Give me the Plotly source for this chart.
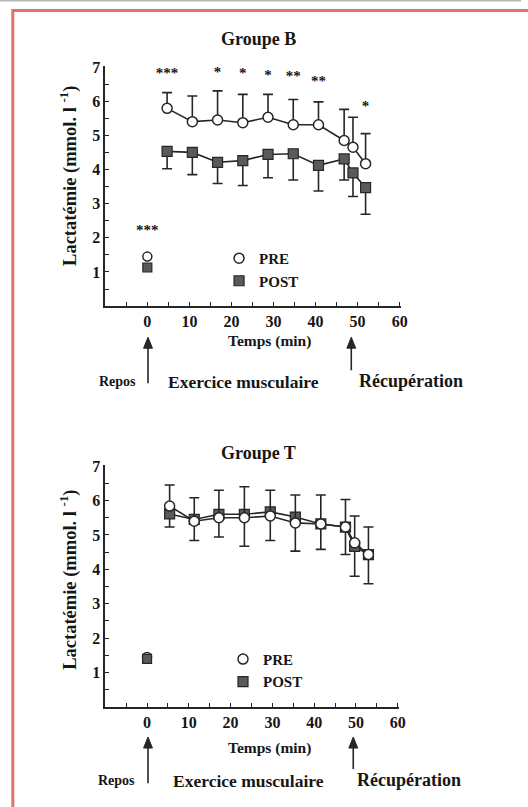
import plotly.graph_objects as go

W, H = 528, 807
def px(x): return x / W
def py(y): return 1 - ((y - 8.5) / 0.988) / H

# ---------------- data ----------------
# Groupe B
time_B = [4.7, 10.7, 16.7, 22.7, 28.7, 34.7, 40.7, 46.8, 48.9, 51.9]
pre_B = [5.79, 5.40, 5.45, 5.37, 5.53, 5.31, 5.31, 4.85, 4.65, 4.17]
pre_B_sd = [0.46, 0.75, 0.85, 0.83, 0.67, 0.74, 0.67, 0.91, 0.88, 0.88]
post_B = [4.53, 4.50, 4.21, 4.26, 4.44, 4.46, 4.12, 4.31, 3.90, 3.47]
post_B_sd = [0.51, 0.65, 0.62, 0.73, 0.68, 0.77, 0.75, 0.62, 0.69, 0.78]
rest_time = [0]
rest_pre_B = [1.45]
rest_post_B = [1.13]
stars_B_x = [0, 4.7, 16.7, 22.7, 28.7, 34.7, 40.7, 51.9]
stars_B_y = [2.2, 6.79, 6.83, 6.79, 6.73, 6.69, 6.55, 5.82]
stars_B_txt = ["***", "***", "*", "*", "*", "**", "**", "*"]

# Groupe T
time_T = [5.4, 11.3, 17.2, 23.3, 29.5, 35.5, 41.6, 47.5, 49.7, 53.0]
pre_T = [5.84, 5.40, 5.50, 5.50, 5.55, 5.35, 5.32, 5.23, 4.77, 4.43]
pre_T_sd = [0.61, 0.68, 0.80, 0.90, 0.75, 0.81, 0.84, 0.80, 0.78, 0.80]
post_T = [5.61, 5.45, 5.60, 5.60, 5.67, 5.52, 5.32, 5.23, 4.67, 4.43]
post_T_sd = [0.38, 0.61, 0.66, 0.93, 0.83, 0.99, 0.74, 0.80, 0.87, 0.85]
rest_pre_T = [1.45]
rest_post_T = [1.40]

y_ticks = [v / 2 for v in range(1, 15)]
y_labels = [str(int(v)) if v == int(v) else "" for v in y_ticks]
x_ticks = list(range(-5, 61, 5))
x_labels = [str(v) if v % 10 == 0 and v >= 0 else "" for v in x_ticks]

FONT = "Liberation Serif"
INK = "#161616"
LINE = "#262626"
SQ = "#5a5a5a"

fig = go.Figure()

def add_group(xa, ya, t, pre, pre_sd, post, post_sd, rpre, rpost, legend):
    fig.add_trace(go.Scatter(
        x=t, y=post, mode="lines+markers", xaxis=xa, yaxis=ya, showlegend=False,
        line=dict(color=LINE, width=1.6),
        marker=dict(symbol="square", size=10, color=SQ, line=dict(color=LINE, width=1.2)),
        error_y=dict(type="data", symmetric=False, array=[0] * len(post_sd),
                     arrayminus=post_sd, color=LINE, thickness=1.6, width=5)))
    fig.add_trace(go.Scatter(
        x=t, y=pre, mode="lines+markers", xaxis=xa, yaxis=ya, showlegend=False,
        line=dict(color=LINE, width=1.6),
        marker=dict(symbol="circle", size=10, color="white", line=dict(color=LINE, width=1.5)),
        error_y=dict(type="data", symmetric=False, array=pre_sd,
                     arrayminus=[0] * len(pre_sd), color=LINE, thickness=1.6, width=5)))
    fig.add_trace(go.Scatter(
        x=rest_time, y=rpre, mode="markers", xaxis=xa, yaxis=ya, showlegend=False,
        marker=dict(symbol="circle", size=9, color="white", line=dict(color=LINE, width=1.5))))
    fig.add_trace(go.Scatter(
        x=rest_time, y=rpost, mode="markers", xaxis=xa, yaxis=ya, showlegend=False,
        marker=dict(symbol="square", size=9, color=SQ, line=dict(color=LINE, width=1.2))))
    # legend entries
    fig.add_trace(go.Scatter(
        x=[None], y=[None], mode="markers", name="PRE", legend=legend, xaxis=xa, yaxis=ya,
        marker=dict(symbol="circle", size=10, color="white", line=dict(color=LINE, width=1.5))))
    fig.add_trace(go.Scatter(
        x=[None], y=[None], mode="markers", name="POST", legend=legend, xaxis=xa, yaxis=ya,
        marker=dict(symbol="square", size=10, color=SQ, line=dict(color=LINE, width=1.2))))

add_group("x", "y", time_B, pre_B, pre_B_sd, post_B, post_B_sd, rest_pre_B, rest_post_B, "legend")
add_group("x2", "y2", time_T, pre_T, pre_T_sd, post_T, post_T_sd, rest_pre_T, rest_post_T, "legend2")

fig.add_trace(go.Scatter(
    x=stars_B_x, y=stars_B_y, text=stars_B_txt, mode="text", xaxis="x", yaxis="y",
    showlegend=False, textfont=dict(family=FONT, size=15, color=INK, weight="bold")))

axis_common = dict(showline=True, linecolor=LINE, linewidth=1.6, ticks="inside",
                   ticklen=4, tickwidth=1.2, tickcolor=LINE, showgrid=False, zeroline=False,
                   tickfont=dict(family=FONT, size=16, color=INK, weight="bold"))

leg_font = dict(family=FONT, size=15, color=INK, weight="bold")
fig.update_layout(
    width=W, height=H, margin=dict(l=0, r=0, t=0, b=0),
    paper_bgcolor="white", plot_bgcolor="rgba(0,0,0,0)",
    font=dict(family=FONT, color=INK, weight="bold"),
    xaxis=dict(domain=[px(106.7), px(406.3)], range=[-10, 60.3], anchor="y",
               tickvals=x_ticks, ticktext=x_labels, **axis_common),
    yaxis=dict(domain=[py(306), py(66.7)], range=[0, 7.02], anchor="x",
               tickvals=y_ticks, ticktext=y_labels, **axis_common),
    xaxis2=dict(domain=[px(106.7), px(404.3)], range=[-10, 60.3], anchor="y2",
                tickvals=x_ticks, ticktext=x_labels, **axis_common),
    yaxis2=dict(domain=[py(706), py(465)], range=[0, 7.02], anchor="x2",
                tickvals=y_ticks, ticktext=y_labels, **axis_common),
    legend=dict(x=px(222), y=py(242), xanchor="left", yanchor="top",
                bgcolor="rgba(0,0,0,0)", font=leg_font, tracegroupgap=0, itemwidth=30),
    legend2=dict(x=px(226), y=py(642), xanchor="left", yanchor="top",
                 bgcolor="rgba(0,0,0,0)", font=leg_font, tracegroupgap=0, itemwidth=30),
)

ann = []
def text(x, y, s, size, xanchor="center", angle=0):
    ann.append(dict(x=px(x), y=py(y), xref="paper", yref="paper", text=s, showarrow=False,
                    xanchor=xanchor, yanchor="middle", textangle=angle,
                    font=dict(family=FONT, size=size, color=INK, weight="bold")))

# titles
text(262, 39, "Groupe B", 18)
text(262, 453, "Groupe T", 18)
# y-axis titles
text(70, 176, "Lactatémie (mmol. l <sup>-1</sup>)", 18.5, angle=-90)
text(70, 579, "Lactatémie (mmol. l <sup>-1</sup>)", 18.5, angle=-90)
# x-axis titles
text(273, 341, "Temps (min)", 15.5)
text(273, 747, "Temps (min)", 15.5)
# phase labels
text(119, 381, "Repos", 14)
text(247, 382, "Exercice musculaire", 17.5)
text(362, 381, "Récupération", 18, xanchor="left")
text(118, 779, "Repos", 14)
text(252, 780, "Exercice musculaire", 17.5)
text(360, 779, "Récupération", 18, xanchor="left")

fig.update_layout(annotations=ann)

# arrows drawn as shapes (shaft + filled head)
def arrow(xp, ytop, ybot):
    fig.add_shape(type="line", xref="paper", yref="paper", x0=px(xp), x1=px(xp),
                  y0=py(ytop + 8), y1=py(ybot), line=dict(color=LINE, width=1.6))
    path = (f"M {px(xp - 4.5)},{py(ytop + 11)} L {px(xp)},{py(ytop)} "
            f"L {px(xp + 4.5)},{py(ytop + 11)} Z")
    fig.add_shape(type="path", xref="paper", yref="paper", path=path,
                  fillcolor=LINE, line=dict(color=LINE, width=1))
arrow(150, 337, 383)
arrow(356, 337, 370)
arrow(150, 736, 782)
arrow(358, 736, 768)

# page frame
fig.add_shape(type="rect", xref="paper", yref="paper", x0=px(13), x1=1.05, y0=-0.05, y1=py(11),
              line=dict(color="#e07272", width=3), fillcolor="rgba(0,0,0,0)", layer="below")
fig.add_shape(type="rect", xref="paper", yref="paper", x0=0, x1=1, y0=py(2), y1=1.02,
              line=dict(width=0), fillcolor="#b8b8b8", layer="below")

fig.write_html(
    "out.html",
    config={"displayModeBar": False},
    post_script=(
        "document.body.style.margin='0px';document.body.style.padding='0px';"
        "var g=document.getElementById('{plot_id}');"
        "g.style.position='absolute';g.style.top='0px';g.style.left='0px';"
    ),
)
